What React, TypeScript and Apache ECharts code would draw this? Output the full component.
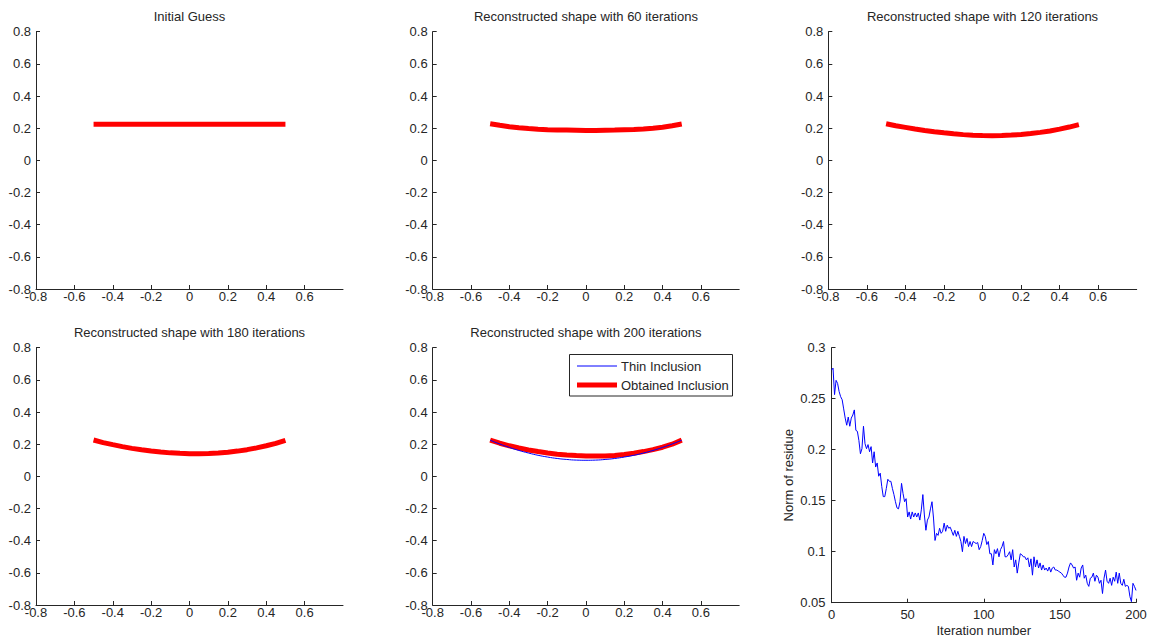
import React, { useEffect, useRef } from "react";
import * as echarts from "echarts";

// ---------- data ----------
const shapeX = [
  -0.5, -0.45, -0.4, -0.35, -0.3, -0.25, -0.2, -0.15, -0.1, -0.05, 0, 0.05, 0.1,
  0.15, 0.2, 0.25, 0.3, 0.35, 0.4, 0.45, 0.5,
];
const initialGuess = [
  0.225, 0.225, 0.225, 0.225, 0.225, 0.225, 0.225, 0.225, 0.225, 0.225, 0.225,
  0.225, 0.225, 0.225, 0.225, 0.225, 0.225, 0.225, 0.225, 0.225, 0.225,
];
const iter60 = [
  0.228, 0.218, 0.209, 0.203, 0.198, 0.194, 0.191, 0.189, 0.188, 0.187, 0.186,
  0.186, 0.187, 0.188, 0.19, 0.192, 0.195, 0.2, 0.206, 0.215, 0.226,
];
const iter120 = [
  0.228, 0.215, 0.205, 0.195, 0.186, 0.178, 0.171, 0.165, 0.16, 0.156, 0.154,
  0.153, 0.154, 0.157, 0.161, 0.167, 0.174, 0.183, 0.194, 0.207, 0.222,
];
const iter180 = [
  0.226, 0.21, 0.197, 0.185, 0.174, 0.165, 0.157, 0.151, 0.146, 0.143, 0.141,
  0.141, 0.142, 0.145, 0.15, 0.157, 0.166, 0.177, 0.19, 0.205, 0.224,
];
const iter200 = [
  0.225, 0.206, 0.19, 0.176, 0.164, 0.154, 0.145, 0.138, 0.133, 0.129, 0.127,
  0.126, 0.127, 0.13, 0.136, 0.144, 0.154, 0.166, 0.181, 0.2, 0.225,
];
const thinInclusion = [
  0.225, 0.201, 0.18, 0.161, 0.145, 0.131, 0.12, 0.111, 0.105, 0.101, 0.1,
  0.101, 0.105, 0.111, 0.12, 0.131, 0.145, 0.161, 0.18, 0.201, 0.225,
];
const residue = [
  0.278, 0.28, 0.254, 0.268, 0.265, 0.257, 0.252, 0.249, 0.24, 0.231,
  0.224, 0.232, 0.223, 0.231, 0.234, 0.239, 0.219, 0.218, 0.209, 0.196,
  0.201, 0.223, 0.206, 0.201, 0.205, 0.198, 0.203, 0.187, 0.198, 0.183,
  0.187, 0.174, 0.177, 0.164, 0.154, 0.154, 0.162, 0.171, 0.169, 0.169,
  0.162, 0.156, 0.149, 0.143, 0.142, 0.149, 0.167, 0.157, 0.149, 0.152,
  0.134, 0.139, 0.132, 0.139, 0.134, 0.138, 0.134, 0.138, 0.131, 0.141,
  0.156, 0.136, 0.121, 0.131, 0.134, 0.142, 0.149, 0.133, 0.111, 0.118,
  0.116, 0.123, 0.118, 0.12, 0.128, 0.12, 0.126, 0.123, 0.124, 0.12,
  0.116, 0.121, 0.115, 0.12, 0.115, 0.11, 0.1, 0.115, 0.108, 0.113,
  0.105, 0.11, 0.105, 0.11, 0.109, 0.108, 0.109, 0.102, 0.105, 0.111,
  0.118, 0.115, 0.107, 0.11, 0.098, 0.098, 0.087, 0.102, 0.098, 0.103,
  0.095, 0.102, 0.105, 0.11, 0.095, 0.095, 0.097, 0.1, 0.092, 0.102,
  0.085, 0.092, 0.079, 0.089, 0.098, 0.097, 0.095, 0.095, 0.092, 0.094,
  0.085, 0.093, 0.077, 0.095, 0.085, 0.092, 0.084, 0.089, 0.082, 0.087,
  0.082, 0.084, 0.081, 0.085, 0.08, 0.084, 0.085, 0.082, 0.082, 0.081,
  0.08, 0.079, 0.077, 0.075, 0.075, 0.079, 0.085, 0.089, 0.087, 0.084,
  0.085, 0.072, 0.079, 0.075, 0.084, 0.087, 0.074, 0.077, 0.069, 0.066,
  0.074, 0.075, 0.079, 0.071, 0.077, 0.075, 0.069, 0.072, 0.059, 0.074,
  0.082, 0.071, 0.069, 0.074, 0.067, 0.075, 0.071, 0.08, 0.069, 0.079,
  0.069, 0.067, 0.073, 0.066, 0.067, 0.066, 0.056, 0.051, 0.069, 0.066,
  0.062,
];
const xTickValues = [-0.8, -0.6, -0.4, -0.2, 0, 0.2, 0.4, 0.6];
const titles = [
  "Initial Guess",
  "Reconstructed shape with 60 iterations",
  "Reconstructed shape with 120 iterations",
  "Reconstructed shape with 180 iterations",
  "Reconstructed shape with 200 iterations",
];
const legendNames = ["Thin Inclusion", "Obtained Inclusion"];

// ---------- layout ----------
const FONT = "'Liberation Sans', Arial, Helvetica, sans-serif";
const TXT = "#262626";
const grids = [
  { left: 36, top: 31.7, width: 307, height: 257.3 },
  { left: 432.7, top: 31.7, width: 306.5, height: 257.3 },
  { left: 828.3, top: 31.7, width: 308.4, height: 257.3 },
  { left: 36, top: 347.7, width: 307, height: 257.3 },
  { left: 432.7, top: 347.7, width: 306.5, height: 257.3 },
  { left: 831.5, top: 347.7, width: 304.5, height: 255 },
];

const axisLineCommon = {
  show: true,
  onZero: false,
  lineStyle: { color: TXT, width: 1 },
};
const labelCommon = { fontSize: 13, color: TXT, fontFamily: FONT };

function pairs(xs: number[], ys: number[]) {
  return xs.map((x, i) => [x, ys[i]]);
}

export default function App() {
  const ref = useRef<HTMLDivElement>(null);
  useEffect(() => {
    if (!ref.current) return;
    const chart = echarts.init(ref.current, undefined, { renderer: "svg" });
    const xAxes: any[] = [];
    const yAxes: any[] = [];
    for (let i = 0; i < 5; i++) {
      xAxes.push({
        gridIndex: i,
        type: "value",
        min: -0.8,
        max: 0.8,
        axisLine: axisLineCommon,
        axisTick: { inside: true, length: 4, lineStyle: { color: TXT }, customValues: xTickValues },
        axisLabel: { ...labelCommon, margin: 1, customValues: xTickValues },
        splitLine: { show: false },
      });
      yAxes.push({
        gridIndex: i,
        type: "value",
        min: -0.8,
        max: 0.8,
        interval: 0.2,
        axisLine: axisLineCommon,
        axisTick: { inside: true, length: 4, lineStyle: { color: TXT } },
        axisLabel: { ...labelCommon, margin: 5 },
        splitLine: { show: false },
      });
    }
    xAxes.push({
      gridIndex: 5,
      type: "value",
      min: 0,
      max: 200,
      interval: 50,
      name: "Iteration number",
      nameLocation: "middle",
      nameGap: 21,
      nameTextStyle: { ...labelCommon },
      axisLine: axisLineCommon,
      axisTick: { inside: true, length: 4, lineStyle: { color: TXT } },
      axisLabel: { ...labelCommon, margin: 5 },
      splitLine: { show: false },
    });
    yAxes.push({
      gridIndex: 5,
      type: "value",
      min: 0.05,
      max: 0.3,
      interval: 0.05,
      name: "Norm of residue",
      nameLocation: "middle",
      nameGap: 37,
      nameTextStyle: { ...labelCommon },
      axisLine: axisLineCommon,
      axisTick: { inside: true, length: 4, lineStyle: { color: TXT } },
      axisLabel: { ...labelCommon, margin: 6 },
      splitLine: { show: false },
    });

    const redLine = (idx: number, ys: number[], name: string) => ({
      type: "line",
      name,
      xAxisIndex: idx,
      yAxisIndex: idx,
      data: pairs(shapeX, ys),
      showSymbol: false,
      lineStyle: { color: "#ff0000", width: 5 },
      z: 2,
    });

    const series: any[] = [
      redLine(0, initialGuess, "Initial Guess"),
      redLine(1, iter60, "60"),
      redLine(2, iter120, "120"),
      redLine(3, iter180, "180"),
      redLine(4, iter200, legendNames[1]),
      {
        type: "line",
        name: legendNames[0],
        xAxisIndex: 4,
        yAxisIndex: 4,
        data: pairs(shapeX, thinInclusion),
        showSymbol: false,
        smooth: true,
        lineStyle: { color: "#0000ff", width: 1 },
        z: 3,
      },
      {
        type: "line",
        name: "residue",
        xAxisIndex: 5,
        yAxisIndex: 5,
        data: residue.map((v, i) => [i, v]),
        showSymbol: false,
        lineStyle: { color: "#0000ff", width: 1 },
      },
    ];

    const centers = grids.map((g) => g.left + g.width / 2);
    const titleGraphics = titles.map((t, i) => ({
      type: "text",
      x: centers[i],
      y: grids[i].top - 15.5,
      style: {
        text: t,
        fill: TXT,
        fontSize: 13,
        fontFamily: FONT,
        align: "center",
        verticalAlign: "middle",
      },
    }));

    const legendGraphics = [
      {
        type: "rect",
        shape: { x: 569.5, y: 354.5, width: 163, height: 41.5 },
        style: { fill: "#ffffff", stroke: TXT, lineWidth: 1 },
        z: 10,
      },
      {
        type: "line",
        shape: { x1: 577, y1: 366, x2: 617, y2: 366 },
        style: { stroke: "#0000ff", lineWidth: 1 },
        z: 11,
      },
      {
        type: "line",
        shape: { x1: 577, y1: 385, x2: 617, y2: 385 },
        style: { stroke: "#ff0000", lineWidth: 5 },
        z: 11,
      },
      {
        type: "text",
        x: 621,
        y: 366,
        style: { text: legendNames[0], fill: TXT, fontSize: 13, fontFamily: FONT, verticalAlign: "middle" },
        z: 11,
      },
      {
        type: "text",
        x: 621,
        y: 385,
        style: { text: legendNames[1], fill: TXT, fontSize: 13, fontFamily: FONT, verticalAlign: "middle" },
        z: 11,
      },
    ];

    chart.setOption({
      animation: false,
      backgroundColor: "#ffffff",
      grid: grids,
      xAxis: xAxes,
      yAxis: yAxes,
      series,
      graphic: [...titleGraphics, ...legendGraphics],
    });
    return () => chart.dispose();
  }, []);
  return (
    <div
      ref={ref}
      style={{ position: "fixed", left: 0, top: 0, width: 1153, height: 639 }}
    />
  );
}
